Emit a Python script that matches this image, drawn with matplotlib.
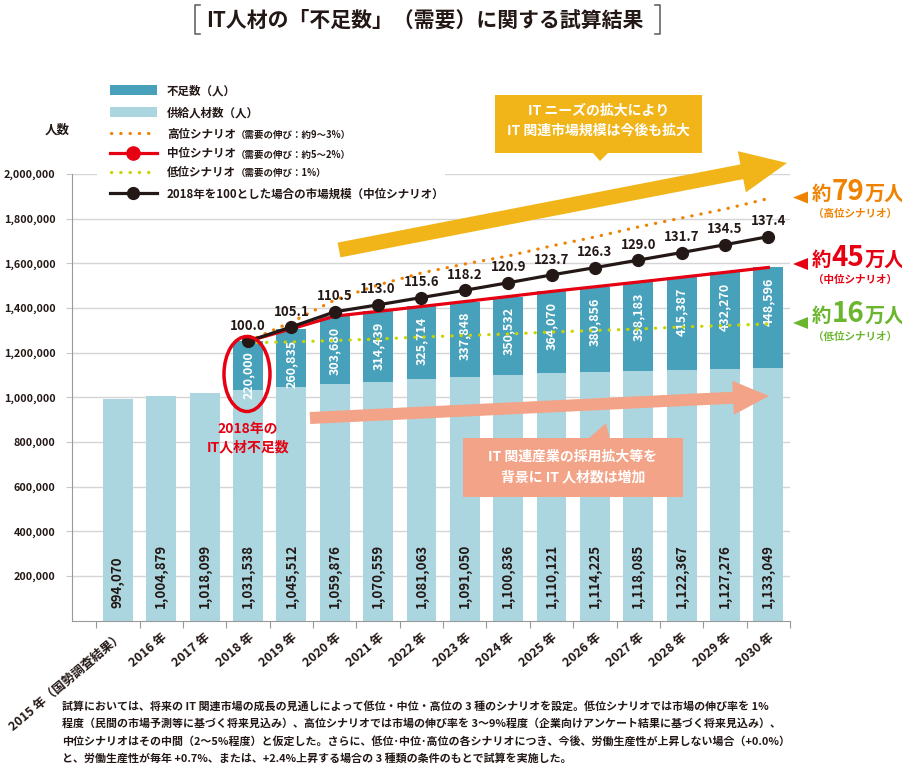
import matplotlib
matplotlib.use("Agg")
import matplotlib.pyplot as plt
import matplotlib.transforms as mtransforms
from matplotlib.patches import Rectangle, Polygon, Ellipse, FancyArrow
from matplotlib.lines import Line2D
from matplotlib.text import Annotation
import numpy as np

plt.rcParams['font.family'] = ['Noto Sans CJK JP', 'DejaVu Sans']
plt.rcParams['font.weight'] = 'bold'

# ---- data ----
years = ['2015 年（国勢調査結果）', '2016 年', '2017 年', '2018 年', '2019 年', '2020 年',
         '2021 年', '2022 年', '2023 年', '2024 年', '2025 年', '2026 年', '2027 年',
         '2028 年', '2029 年', '2030 年']
supply = [994070, 1004879, 1018099, 1031538, 1045512, 1059876, 1070559, 1081063,
          1091050, 1100836, 1110121, 1114225, 1118085, 1122367, 1127276, 1133049]
# shortage from 2018 to 2030
shortage = [220000, 260835, 303680, 314439, 325714, 337848, 350532, 364070,
            380856, 398183, 415387, 432270, 448596]
# market size index, 2018 = 100 (middle scenario)
index_mid = [100.0, 105.1, 110.5, 113.0, 115.6, 118.2, 120.9, 123.7, 126.3,
             129.0, 131.7, 134.5, 137.4]
# demand lines of the high / low scenario
demand_high = [1251538, 1337000, 1436000, 1503000, 1557000, 1597000, 1633000,
               1678000, 1718000, 1763000, 1803000, 1843000, 1890000]
demand_low = [1245000, 1248000, 1254600, 1261300, 1270300, 1277000, 1283700,
              1292700, 1299400, 1306100, 1315100, 1321800, 1328500]
yticks = list(range(200000, 2000001, 200000))

DARK = '#231815'
TEAL = '#47A1BA'
LIGHT = '#ABD6E0'
ORANGE = '#EF8200'
RED = '#E60012'
LIME = '#C8D400'
GREEN = '#6BB52F'
YELLOW = '#F2B519'
SALMON = '#F3A387'

W, H = 903, 766
fig = plt.figure(figsize=(W / 100, H / 100), dpi=100)
# pixel coords, origin top-left, for decorations
PX = mtransforms.Affine2D().scale(1 / W, -1 / H).translate(0, 1) + fig.transFigure

ax = fig.add_axes([72 / W, 1 - 620.7 / H, (790 - 72) / W, (620.7 - 174) / H])

x = np.arange(len(years))
x_scen = np.arange(3, len(years))
supply = np.array(supply)
shortage = np.array(shortage)
demand_mid = supply[3:] + shortage

ax.bar(x, supply, width=0.69, color=LIGHT, zorder=2)
ax.bar(x_scen, shortage, bottom=supply[3:], width=0.69, color=TEAL, zorder=2)

for i, v in zip(x, supply):
    ax.annotate(f"{v:,}", (i, 0), xytext=(0, 9.5), textcoords='offset points',
                rotation=90, ha='center', va='bottom', fontsize=9.6, color=DARK, zorder=3)
for i, top, s in zip(x_scen, demand_mid, shortage):
    ax.annotate(f"{s:,}", (i, top), xytext=(0, -7.5), textcoords='offset points',
                rotation=90, ha='center', va='top', fontsize=9, color='white', zorder=3)

dots = dict(linestyle=(0, (0.1, 2.8)), dash_capstyle='round', lw=2.3)
ax.plot(x_scen, demand_high, color=ORANGE, zorder=4, **dots)
ax.plot(x_scen, demand_low, color=LIME, zorder=4, **dots)
ax.plot(x_scen, demand_mid, color=RED, lw=2.3, zorder=4)

ax.set_xlim(-1.06, 15.48)
ax.set_ylim(0, 2000000)
ax.set_yticks(yticks)
ax.set_yticklabels([f"{v:,}" for v in yticks], fontsize=7.8, color=DARK)
ax.tick_params(axis='y', length=4, color='#c8c8c8', pad=8)
ax.yaxis.grid(True, color='#d5d5d5', lw=1, zorder=0)
ax.set_axisbelow(True)

ax.set_xticks(np.arange(-0.5, 16, 1))
ax.set_xticklabels([])
ax.tick_params(axis='x', which='major', length=5, color='#999999', direction='out')
ax.set_xticks(x, minor=True)
ax.set_xticklabels(years, minor=True, rotation=40, ha='right', rotation_mode='anchor',
                   fontsize=9, color=DARK)
ax.tick_params(axis='x', which='minor', length=0, pad=7)
for side in ['top', 'right']:
    ax.spines[side].set_visible(False)
for side in ['left', 'bottom']:
    ax.spines[side].set_color('#999999')

# index line on a hidden twin axis (2018 = 100 sits on the 2018 demand)
ax2 = ax.twinx()
ax2.set_ylim(0, 2000000 / demand_mid[0] * 100)
ax2.axis('off')
ax2.plot(x_scen, index_mid, color=DARK, lw=2.3, marker='o', ms=8.5)
for i, v in zip(x_scen, index_mid):
    ax2.annotate(f"{v:.1f}", (i, v), xytext=(0, 6), textcoords='offset points',
                 ha='center', va='bottom', fontsize=9.5, color=DARK)


def ftext(px, py, s, **kw):
    return fig.text(px, py, s, transform=PX, **kw)


def chain(prev, s, py, **kw):
    a = Annotation(s, xy=(1, H - py), xycoords=(prev, 'figure pixels'),
                   ha='left', va='baseline', annotation_clip=False, **kw)
    fig.add_artist(a)
    return a


# title with brackets
ftext(425, 20, 'IT人材の「不足数」（需要）に関する試算結果', ha='center', va='center',
      fontsize=15, color=DARK)
fig.add_artist(Line2D([200, 195, 195, 200], [5, 5, 34, 34], transform=PX, color='#666666', lw=1.2))
fig.add_artist(Line2D([655, 660, 660, 655], [5, 5, 34, 34], transform=PX, color='#666666', lw=1.2))

ftext(57, 130, '人数', ha='center', va='center', fontsize=9, color=DARK)

# legend (manual)
fig.add_artist(Rectangle((97, 80), 348, 122, transform=PX, color='white', lw=0, zorder=2))
rows = [(90, 'dark'), (111.7, 'light'), (133, 'high'), (153, 'mid'), (171.7, 'low'), (193, 'idx')]
main_lbl = ['不足数（人）', '供給人材数（人）', '高位シナリオ', '中位シナリオ', '低位シナリオ',
            '2018年を100とした場合の市場規模（中位シナリオ）']
small_lbl = ['', '', '（需要の伸び：約9～3%）', '（需要の伸び：約5～2%）', '（需要の伸び：1%）', '']
for (ry, kind), m, s in zip(rows, main_lbl, small_lbl):
    if kind in ('dark', 'light'):
        fig.add_artist(Rectangle((110, ry - 5), 47, 10, transform=PX, lw=0,
                                 color=TEAL if kind == 'dark' else LIGHT, zorder=3))
    elif kind in ('high', 'low'):
        fig.add_artist(Line2D([111, 157], [ry, ry], transform=PX, zorder=3,
                              color=ORANGE if kind == 'high' else LIME, **dots))
    else:
        c = RED if kind == 'mid' else DARK
        fig.add_artist(Line2D([110, 157], [ry, ry], transform=PX, color=c, lw=2.3, zorder=3))
        fig.add_artist(Line2D([133.5], [ry], transform=PX, color=c, marker='o',
                              ms=9.5 if kind == 'mid' else 8.5, zorder=3))
    t = ftext(167, ry + 4.5, m, ha='left', va='baseline', fontsize=8.3, color=DARK, zorder=3)
    if s:
        chain(t, s, ry + 4.5, fontsize=6.8, color=DARK, zorder=4)

# big arrows
fig.add_artist(FancyArrow(339, 250, 448, -87, width=15, head_width=42, head_length=46,
                          length_includes_head=True, transform=PX, color=YELLOW, lw=0, zorder=3))
fig.add_artist(FancyArrow(310, 418, 459, -22, width=12, head_width=34, head_length=36,
                          length_includes_head=True, transform=PX, color=SALMON, lw=0, zorder=3))

# callouts
fig.add_artist(Rectangle((495, 95), 207, 58, transform=PX, color=YELLOW, lw=0, zorder=3))
fig.add_artist(Polygon([(592, 152), (609, 152), (600, 161)], transform=PX, color=YELLOW, lw=0, zorder=3))
ftext(598.5, 111, 'IT ニーズの拡大により', ha='center', va='center', fontsize=10, color='white', zorder=4)
ftext(598.5, 131, 'IT 関連市場規模は今後も拡大', ha='center', va='center', fontsize=10, color='white', zorder=4)

fig.add_artist(Rectangle((463, 438), 220, 59, transform=PX, color=SALMON, lw=0, zorder=3))
fig.add_artist(Polygon([(588, 439), (610, 439), (606, 423)], transform=PX, color=SALMON, lw=0, zorder=3))
ftext(573, 457, 'IT 関連産業の採用拡大等を', ha='center', va='center', fontsize=10, color='white', zorder=4)
ftext(573, 477, '背景に IT 人材数は増加', ha='center', va='center', fontsize=10, color='white', zorder=4)

# 2018 shortage highlight
fig.add_artist(Ellipse((247, 374), 46, 75, transform=PX, fill=False, ec=RED, lw=2.5, zorder=3))
ftext(248, 429, '2018年の', ha='center', va='center', fontsize=10, color=RED)
ftext(248, 447, 'IT人材不足数', ha='center', va='center', fontsize=10, color=RED)

# right-side scenario notes
notes = [(197.5, 199.5, 217, ORANGE, '79', '（高位シナリオ）'),
         (264, 265.5, 283, RED, '45', '（中位シナリオ）'),
         (323, 322, 339.5, GREEN, '16', '（低位シナリオ）')]
for ty, by, sy, c, num, sub in notes:
    fig.add_artist(Polygon([(793, ty), (808, ty - 6), (808, ty + 6)], transform=PX,
                           color=c, lw=0, zorder=3))
    a = ftext(812, by, '約', ha='left', va='baseline', fontsize=14, color=c)
    b = chain(a, num, by, fontsize=20, color=c)
    chain(b, '万人', by, fontsize=14.5, color=c)
    ftext(855, sy, sub, ha='center', va='baseline', fontsize=7.6, color=c)

# footnote
notes_txt = [
    '試算においては、将来の IT 関連市場の成長の見通しによって低位・中位・高位の 3 種のシナリオを設定。低位シナリオでは市場の伸び率を 1%',
    '程度（民間の市場予測等に基づく将来見込み）、高位シナリオでは市場の伸び率を 3～9%程度（企業向けアンケート結果に基づく将来見込み）、',
    '中位シナリオはその中間（2～5%程度）と仮定した。さらに、低位･中位･高位の各シナリオにつき、今後、労働生産性が上昇しない場合（+0.0%）',
    'と、労働生産性が毎年 +0.7%、または、+2.4%上昇する場合の 3 種類の条件のもとで試算を実施した。',
]
for k, line in enumerate(notes_txt):
    ftext(62, 706 + k * 17.6, line, ha='left', va='center', fontsize=7.9, color=DARK)

fig.savefig('out.png', dpi=100)
